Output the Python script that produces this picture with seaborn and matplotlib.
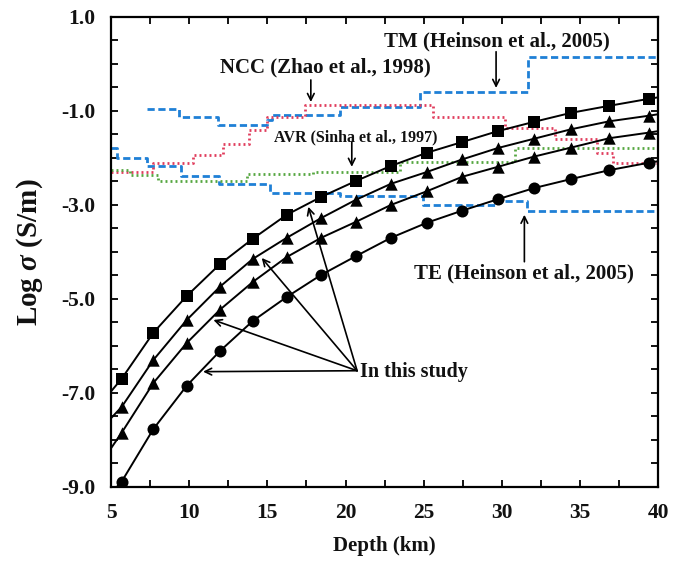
import matplotlib.pyplot as plt
import pandas as pd
import seaborn as sns
from matplotlib.ticker import MultipleLocator, FormatStrFormatter

# 深度 (km) 與四條模型曲線 (log σ)
depth = [5.68, 7.71, 9.84, 11.97, 14.07, 16.24, 18.44, 20.67, 22.91, 25.20,
         27.48, 29.74, 32.08, 34.43, 36.88, 39.44]
curve_sq = [-6.70, -5.72, -4.94, -4.26, -3.72, -3.21, -2.83, -2.49, -2.17, -1.89,
            -1.66, -1.43, -1.23, -1.04, -0.89, -0.74]
curve_tri_a = [-7.30, -6.30, -5.45, -4.74, -4.15, -3.70, -3.28, -2.89, -2.55, -2.30,
               -2.03, -1.79, -1.59, -1.39, -1.22, -1.10]
curve_tri_b = [-7.85, -6.79, -5.94, -5.23, -4.64, -4.11, -3.70, -3.36, -3.00, -2.71,
               -2.40, -2.19, -1.97, -1.78, -1.58, -1.46]
curve_circ = [-8.89, -7.77, -6.85, -6.11, -5.47, -4.96, -4.49, -4.09, -3.70, -3.38,
              -3.12, -2.88, -2.64, -2.45, -2.26, -2.10]

# 曲線在邊框上的起點與終點 (sq, tri_a, tri_b, circ)
start_depth = [5.0, 5.0, 5.0, 5.38]
start_val = [-6.97, -7.54, -8.18, -9.0]
end_depth = [40.0, 40.0, 40.0, 40.0]
end_val = [-0.71, -1.07, -1.43, -2.07]

# 前人結果 (階梯線, steps-post)
tm_x = [7.28, 9.35, 11.87, 14.96, 15.3, 19.65, 24.77, 31.70, 40.0]
tm_y = [-0.96, -1.13, -1.30, -1.20, -1.09, -0.92, -0.60, 0.14, 0.14]
ncc_x = [5.0, 7.71, 10.27, 12.19, 13.83, 14.96, 17.41, 25.6, 30.2, 33.4, 36.07, 37.14, 40.0]
ncc_y = [-2.29, -2.11, -1.94, -1.71, -1.40, -1.12, -0.88, -1.12, -1.37, -1.60, -1.90, -2.11, -2.11]
avr_x = [5.0, 6.22, 8.0, 13.7, 17.9, 23.5, 30.85, 40.0]
avr_y = [-2.25, -2.36, -2.49, -2.34, -2.29, -2.08, -1.79, -1.79]
te_x = [5.0, 5.36, 7.28, 9.45, 11.9, 15.17, 19.65, 24.98, 29.68, 31.6, 40.0]
te_y = [-1.79, -2.01, -2.17, -2.38, -2.56, -2.74, -2.82, -3.00, -2.91, -3.14, -3.14]

sns.set_theme(style="ticks")
plt.rcParams["font.family"] = ["Liberation Serif", "DejaVu Serif"]
plt.rcParams["font.weight"] = "bold"
plt.rcParams["mathtext.fontset"] = "custom"
plt.rcParams["mathtext.it"] = "Liberation Serif:italic:bold"
plt.rcParams["mathtext.rm"] = "Liberation Serif:bold"
plt.rcParams["axes.unicode_minus"] = False
# 文字與刻度用黑色
for key in ["text.color", "axes.labelcolor", "xtick.color", "ytick.color"]:
    plt.rcParams[key] = "#111111"

fig = plt.figure(figsize=(6.73, 5.66), dpi=100)
ax = fig.add_axes([0.165, 0.140, 0.813, 0.830])

blue = "#1f80d6"
red = "#e03c5c"
green = "#55a640"

# 階梯線
sns.lineplot(x=tm_x, y=tm_y, drawstyle="steps-post", color=blue, lw=2.0,
             linestyle=(0, (2.6, 1.3)), errorbar=None, ax=ax)
sns.lineplot(x=te_x, y=te_y, drawstyle="steps-post", color=blue, lw=2.0,
             linestyle=(0, (2.6, 1.3)), errorbar=None, ax=ax)
sns.lineplot(x=ncc_x, y=ncc_y, drawstyle="steps-post", color=red, lw=2.0,
             linestyle=(0, (0.7, 1.1)), errorbar=None, ax=ax)
sns.lineplot(x=avr_x, y=avr_y, drawstyle="steps-post", color=green, lw=2.0,
             linestyle=(0, (0.7, 1.1)), errorbar=None, ax=ax)

# 本研究曲線
curves = [curve_sq, curve_tri_a, curve_tri_b, curve_circ]
markers = ["s", "^", "^", "o"]
sizes = [70, 80, 80, 75]
for i, vals in enumerate(curves):
    df = pd.DataFrame({"depth": [start_depth[i]] + depth + [end_depth[i]],
                       "val": [start_val[i]] + vals + [end_val[i]]})
    sns.lineplot(data=df, x="depth", y="val", color="black", lw=1.4,
                 errorbar=None, ax=ax, zorder=3)
    sns.scatterplot(x=depth, y=vals, marker=markers[i], s=sizes[i],
                    color="black", edgecolor="black", linewidth=0, ax=ax, zorder=4)

# 文字與箭頭
arrow = dict(arrowstyle="->", color="black", lw=1.2, shrinkA=0, shrinkB=0)
ax.text(29.66, 0.47, "TM (Heinson et al., 2005)", fontsize=15, fontweight="bold",
        ha="center", va="center")
ax.annotate("", xy=(29.63, -0.51), xytext=(29.63, 0.26), arrowprops=arrow)
ax.text(18.69, -0.085, "NCC (Zhao et al., 1998)", fontsize=15, fontweight="bold",
        ha="center", va="center")
ax.annotate("", xy=(17.78, -0.81), xytext=(17.78, -0.34), arrowprops=arrow)
ax.text(20.68, -1.57, "AVR (Sinha et al., 1997)", fontsize=11.5, fontweight="bold",
        ha="center", va="center")
ax.annotate("", xy=(20.40, -2.19), xytext=(20.40, -1.66), arrowprops=arrow)
ax.text(31.42, -4.45, "TE (Heinson et al., 2005)", fontsize=15, fontweight="bold",
        ha="center", va="center")
ax.annotate("", xy=(31.44, -3.21), xytext=(31.44, -4.21), arrowprops=arrow)
ax.text(20.93, -6.55, "In this study", fontsize=14.5, fontweight="bold",
        ha="left", va="center")
for tx, ty in [(10.89, -6.55), (11.55, -5.45), (14.64, -4.13), (17.62, -3.04)]:
    ax.annotate("", xy=(tx, ty), xytext=(20.74, -6.53), arrowprops=arrow)

# 座標軸
ax.set_xlim(5, 40)
ax.set_ylim(-9, 1)
ax.xaxis.set_major_locator(MultipleLocator(5))
ax.xaxis.set_minor_locator(MultipleLocator(2.5))
ax.set_yticks([1, -1, -3, -5, -7, -9])
ax.yaxis.set_minor_locator(MultipleLocator(0.5))
ax.yaxis.set_major_formatter(FormatStrFormatter("%.1f"))
ax.tick_params(which="both", direction="in", top=True, right=True,
               length=5, width=1.3, color="black")
ax.tick_params(axis="x", labelsize=15.5, pad=12)
ax.tick_params(axis="y", labelsize=15.5, pad=11)
for lab in ax.get_xticklabels() + ax.get_yticklabels():
    lab.set_fontweight("bold")
for sp in ax.spines.values():
    sp.set_linewidth(1.6)
    sp.set_color("black")

ax.set_xlabel("Depth (km)", fontsize=15, fontweight="bold", labelpad=9)
ax.set_ylabel("Log $\\sigma$ (S/m)", fontsize=21, fontweight="bold", labelpad=12)

fig.savefig("out.png", dpi=100)
